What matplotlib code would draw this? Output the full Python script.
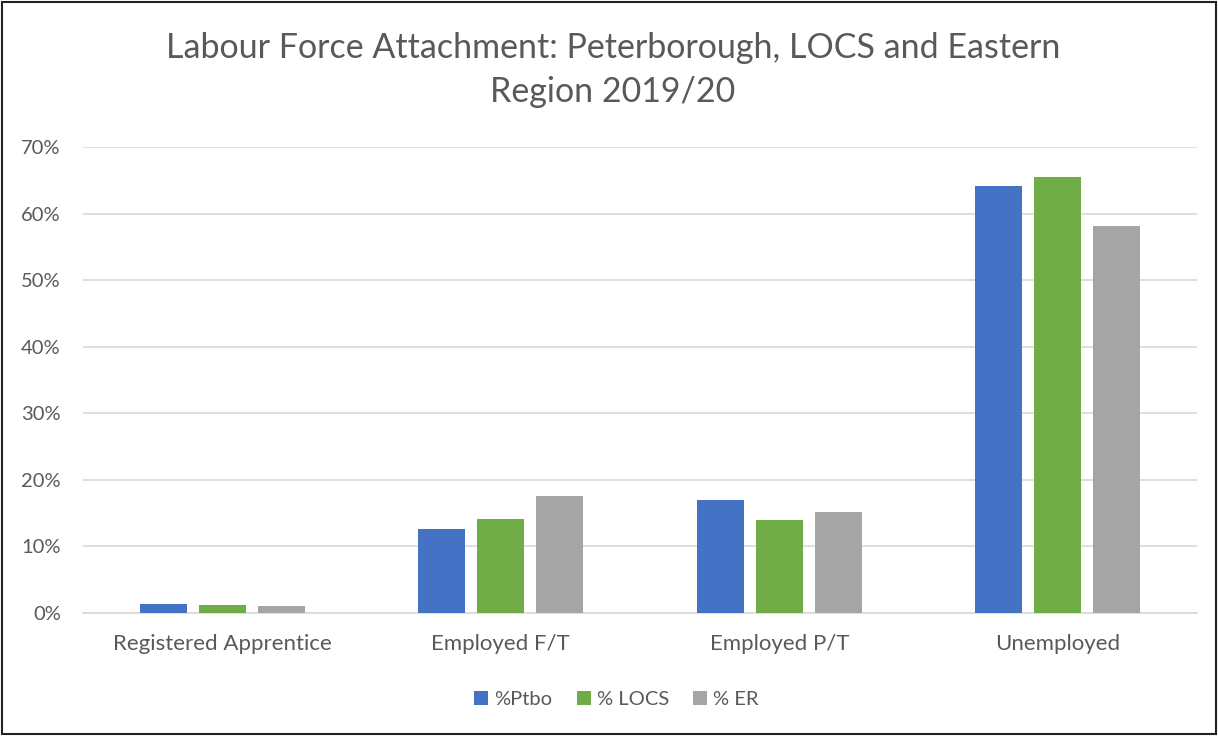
import numpy as np
from matplotlib import pyplot as plt
from matplotlib.patches import Rectangle
from matplotlib.ticker import PercentFormatter

categories = ['Registered Apprentice', 'Employed F/T', 'Employed P/T', 'Unemployed']
series_names = ['%Ptbo', '% LOCS', '% ER']
ptbo = [1.3, 12.6, 16.9, 64.1]
locs = [1.2, 14.1, 13.9, 65.5]
er = [1.0, 17.6, 15.2, 58.1]
colors = ['#4472C4', '#70AD47', '#A5A5A5']
title_lines = ['Labour Force Attachment: Peterborough, LOCS and Eastern', 'Region 2019/20']

plt.rcParams['font.family'] = ['Lato', 'DejaVu Sans']
text_col = '#595959'

W, H = 1218, 736
fig = plt.figure(figsize=(W / 100, H / 100), dpi=100)
ax = fig.add_axes([83 / W, 1 - 613 / H, (1197 - 83) / W, (613 - 147) / H])

x = np.arange(len(categories))
bar_w = 0.169
step = 0.212
for i, (vals, name) in enumerate(zip([ptbo, locs, er], series_names)):
  ax.bar(x + (i - 1) * step, vals, width=bar_w, color=colors[i], label=name, zorder=3)

ax.set_xlim(-0.5, len(categories) - 0.5)
ax.set_ylim(0, 70)
ax.set_yticks(range(0, 71, 10))
ax.yaxis.set_major_formatter(PercentFormatter(decimals=0))
ax.set_xticks(x, labels=categories)
ax.grid(axis='y', color='#D9D9D9', linewidth=1.2, zorder=0)
ax.tick_params(axis='both', length=0, labelcolor=text_col)
ax.tick_params(axis='x', pad=15, labelsize=16)
ax.tick_params(axis='y', pad=16, labelsize=14.5)
for s in ['top', 'right', 'left']:
  ax.spines[s].set_visible(False)
ax.spines['bottom'].set_color('#D9D9D9')
ax.spines['bottom'].set_linewidth(1.2)

# title: two lines placed on their baselines
for line, base in zip(title_lines, [58, 102]):
  fig.text(613 / W, 1 - base / H, line, ha='center', va='baseline',
           fontsize=24.5, color=text_col)

ax.legend(loc='center', bbox_to_anchor=(0.479, -0.186), ncol=3, frameon=False,
          fontsize=14.5, labelcolor=text_col, handlelength=0.7, handleheight=0.7,
          handletextpad=0.3, columnspacing=1.2)

fig.patches.append(Rectangle((0.002, 0.003), 0.996, 0.994, transform=fig.transFigure,
                             fill=False, edgecolor='#222222', linewidth=1.5))

fig.savefig('out.png', dpi=100)
